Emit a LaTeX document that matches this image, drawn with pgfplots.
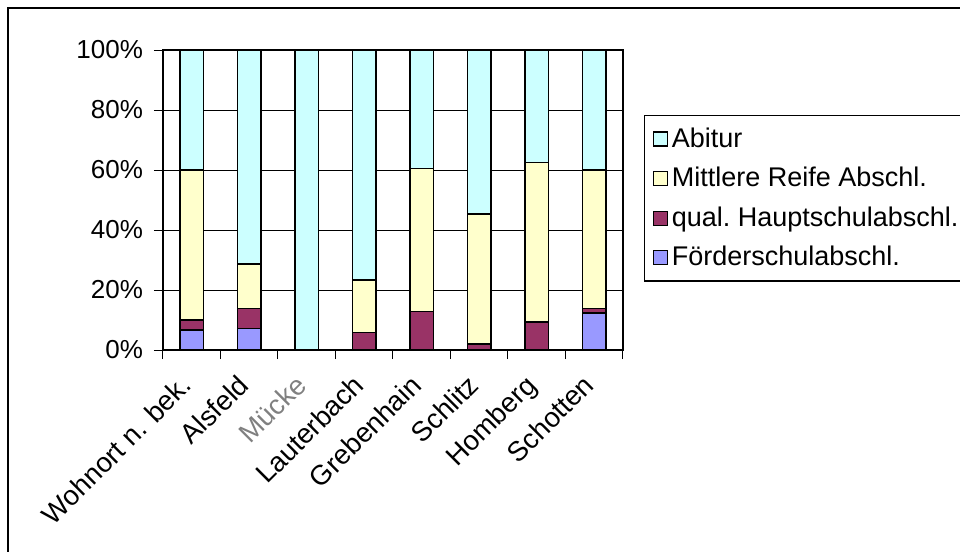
\documentclass[border=0pt]{standalone}
\usepackage{fontspec}
\setmainfont{Liberation Sans}
\usepackage{pgfplots}
\usepackage{pgfplotstable}
\pgfplotsset{compat=1.18}
\definecolor{cAbitur}{HTML}{CCFFFF}
\definecolor{cMittl}{HTML}{FFFFCC}
\definecolor{cHaupt}{HTML}{993366}
\definecolor{cFoerder}{HTML}{9999FF}

% shares per place, in percent (bottom to top)
\pgfplotstableread{
idx foerder haupt mittl abitur
0   6.7     3.3   50.0  40.0
1   7.2     6.7   14.8  71.3
2   0       0     0     100
3   0       5.9   17.4  76.7
4   0       12.8  47.8  39.4
5   0       2.0   43.3  54.7
6   0       9.3   53.3  37.4
7   12.4    1.5   46.1  40.0
}\datatable

\begin{document}
\begin{tikzpicture}
% 1 px of the reference = 0.5pt, origin at the axis' lower left corner
\useasboundingbox (-81.5pt,-101pt) rectangle (398.5pt,175pt);
\draw[line width=1.3pt] (-77.5pt,-101pt) -- (-77.5pt,171pt) -- (398.5pt,171pt);
\begin{axis}[
    at={(0pt,0pt)}, anchor=south west,
    scale only axis,
    width=230pt, height=150pt,
    ybar stacked,
    bar width=11.7pt,
    xmin=-0.5, xmax=7.5,
    ymin=0, ymax=100,
    axis line style={black, line width=0.6pt},
    ymajorgrids,
    grid style={black, line width=0.5pt},
    tick align=outside,
    tick pos=left,
    major tick length=4.5pt,
    minor tick length=4.5pt,
    tick style={black, line width=0.5pt},
    ytick={0,20,40,60,80,100},
    yticklabels={0\%,20\%,40\%,60\%,80\%,100\%},
    yticklabel style={xshift=-2pt, font=\fontsize{13}{15}\selectfont},
    xtick={0,...,7},
    major x tick style={draw=none},
    minor x tick num=1,
    extra x ticks={-0.5,7.5},
    extra x tick labels={},
    extra x tick style={major x tick style={draw=black}, grid=none},
    xticklabels={Wohnort n. bek., Alsfeld, \textcolor{gray}{Mücke}, Lauterbach, Grebenhain, Schlitz, Homberg, Schotten},
    xticklabel style={xshift=0.75pt, yshift=-14pt, rotate=45, anchor=base east,
        inner sep=0pt, font=\fontsize{13.8}{15}\selectfont},
    legend style={at={(1.0457,0.783)}, anchor=north west, draw=black,
        line width=0.6pt, font=\fontsize{13.5}{15}\selectfont,
        row sep=4.5pt, inner sep=4pt},
    legend cell align=left,
    reverse legend,
    legend image code/.code={\draw[#1, draw=black, line width=0.6pt] (0pt,-3.5pt) rectangle (7pt,3.5pt);},
    every axis plot/.append style={draw=black, line width=0.7pt},
]
\addplot[fill=cFoerder] table[x=idx, y=foerder]{\datatable};
\addplot[fill=cHaupt] table[x=idx, y=haupt]{\datatable};
\addplot[fill=cMittl] table[x=idx, y=mittl]{\datatable};
\addplot[fill=cAbitur] table[x=idx, y=abitur]{\datatable};
\legend{Förderschulabschl., qual.\ Hauptschulabschl., Mittlere Reife Abschl., Abitur}
\end{axis}
\end{tikzpicture}
\end{document}
